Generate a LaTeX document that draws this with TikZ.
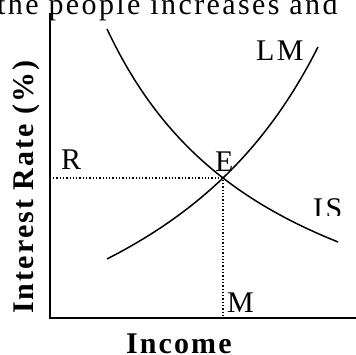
\documentclass[tikz,border=0pt]{standalone}
\usepackage{fontspec}
\setmainfont{Liberation Serif}
\newfontfamily\lsf[LetterSpace=8]{Liberation Serif}
\newfontfamily\lsb[LetterSpace=7]{Liberation Serif Bold}
\tikzset{
  lbl/.style={inner sep=0pt, anchor=base west, font=\lsf\fontsize{30}{33}\selectfont},
  axlbl/.style={lbl, font=\lsb\fontsize{30}{33}\selectfont},
  curve/.style={line width=1.5pt},
  guide/.style={line width=1.1pt, dash pattern=on 1.3pt off 2pt},
  axis/.style={line width=1.8pt}
}
\begin{document}
\begin{tikzpicture}[x=1pt,y=-1pt]
\useasboundingbox (0,0) rectangle (356,354);
\clip (0,0) rectangle (356,354);
\node[lbl] (top) at (-3,14) {the people increases and};
\coordinate (O) at (50,318);
\coordinate (ytop) at (50,13);
\coordinate (xend) at (357,318);
\coordinate (E) at (223,178);
\coordinate (Rl) at (53,178);
\coordinate (Mx) at (223,318);
\draw[axis] (ytop) -- (O) -- (xend);
\draw[guide] (Rl) -- (E) -- (Mx);
\node[lbl] (LM) at (256,60) {LM};
\node[lbl] (R) at (61,169) {R};
\node[lbl] (Elab) at (215,171) {E};
\node[lbl] (IS) at (313,218) {IS};
\fill[white] (310,216) rectangle (345,224);
\node[lbl] (M) at (227,312) {M};
\node[axlbl] (xl) at (126,353) {Income};
\node[axlbl, rotate=90] (yl) at (33.5,314) {Interest Rate (\%)};
\draw[curve] plot[domain=107:338,samples=80] (\x,{404.8-663.74/((\x+69.6)/100)});
\draw[curve] plot[domain=107:318,samples=80] (\x,{476.4-929.34/((534.4-\x)/100)});
\end{tikzpicture}
\end{document}
